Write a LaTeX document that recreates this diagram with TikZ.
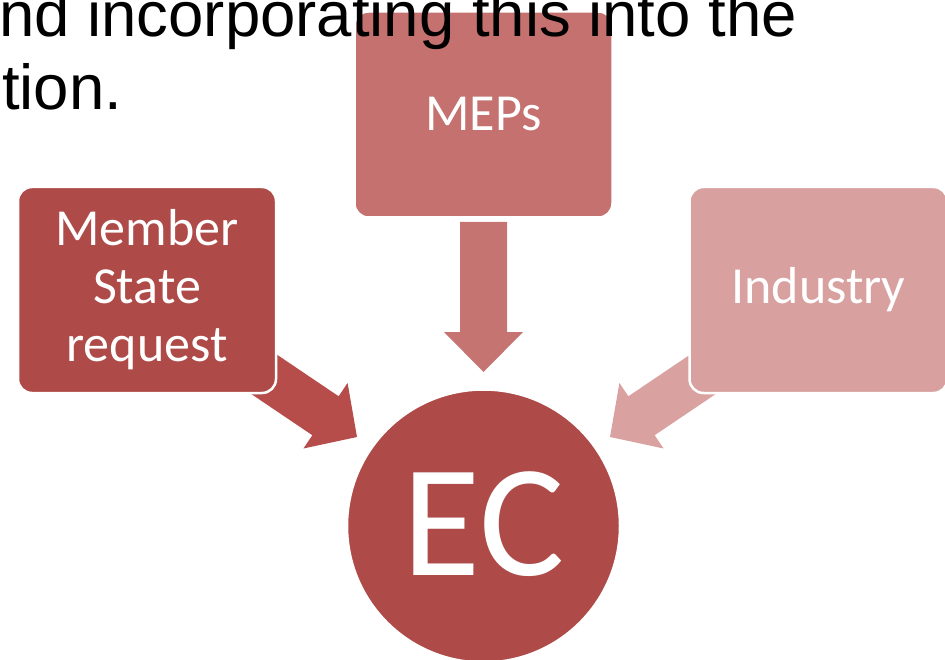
\documentclass[tikz,border=0pt]{standalone}
\usepackage{fontspec}
\setmainfont{Liberation Sans}
\newfontfamily\carlito{Carlito}
\definecolor{darkred}{RGB}{174,74,71}
\definecolor{midred}{RGB}{196,113,111}
\definecolor{lightred}{RGB}{216,160,159}
\definecolor{arrowdark}{RGB}{182,77,74}
\definecolor{arrowmid}{RGB}{198,116,114}
\definecolor{arrowlight}{RGB}{217,162,161}
\tikzset{
  sbox/.style={rectangle, rounded corners=14pt, minimum width=258pt, minimum height=206pt,
    draw=white, line width=2.5pt, text=white, align=center, inner sep=0pt,
    font=\carlito\fontsize{52}{58}\selectfont},
  ecnode/.style={circle, minimum size=273pt, inner sep=0pt, draw=white, line width=2.5pt,
    fill=darkred, text=white, font=\carlito\fontsize{160}{160}\selectfont},
  toptext/.style={anchor=base west, inner sep=0pt, text=black, font=\fontsize{63.5}{72}\selectfont}
}
\newcommand\blockarr[3]{% length, head length, color
  \fill[#3] (0,0) -- (-#2,39.5) -- (-#2,23.5) -- (-#1,23.5) -- (-#1,-23.5) -- (-#2,-23.5) -- (-#2,-39.5) -- cycle;}
\begin{document}
\begin{tikzpicture}[x=1pt,y=-1pt]
\useasboundingbox (0,0) rectangle (945,660);
\clip (0,0) rectangle (945,660);
% arrows
\coordinate (msTip) at (357,437);
\coordinate (mepTip) at (483.5,372);
\coordinate (indTip) at (610,437);
\begin{scope}[shift={(msTip)}, rotate=-34]
  \blockarr{130}{38}{arrowdark}
\end{scope}
\begin{scope}[shift={(mepTip)}, rotate=-90]
  \blockarr{150}{40}{arrowmid}
\end{scope}
\begin{scope}[shift={(indTip)}, rotate=-146]
  \blockarr{130}{38}{arrowlight}
\end{scope}
% boxes
\node[sbox, fill=darkred] (ms) at (147,290) {Member\\State\\request};
\node[sbox, fill=midred] (mep) at (483.5,114.5) {MEPs};
\node[sbox, fill=lightred] (ind) at (818.5,290) {Industry};
\node[ecnode] (ec) at (483.5,526) {\raisebox{5pt}{EC}};
% top text
\node[toptext] (t1) at (-1,37) {nd incorporating this into the};
\node[toptext] (t2) at (2,110) {tion.};
\end{tikzpicture}
\end{document}
